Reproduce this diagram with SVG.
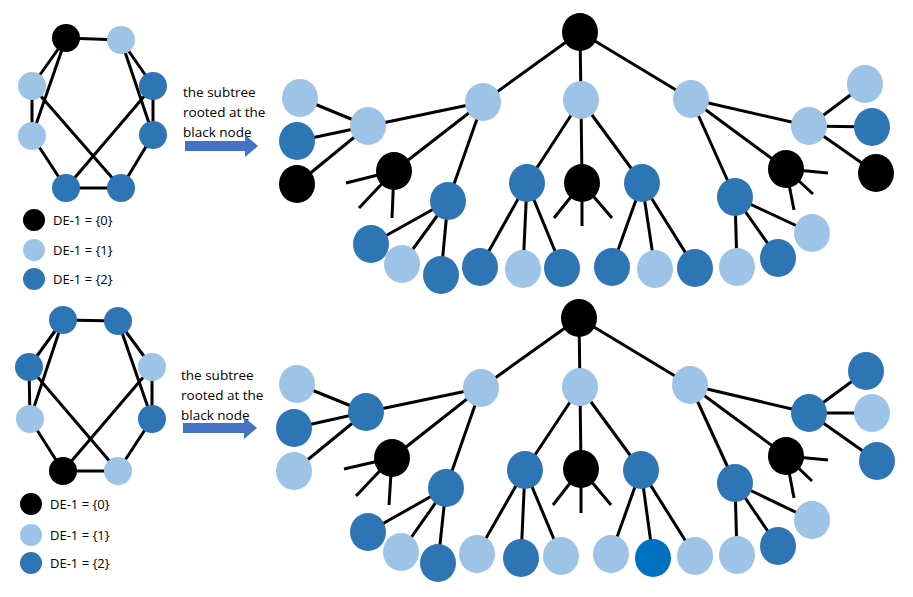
<svg xmlns="http://www.w3.org/2000/svg" width="913" height="597" viewBox="0 0 913 597">
<style>
.k{fill:#000}.l{fill:#9DC3E6}.d{fill:#2E75B6}.b{fill:#0070C0}
line{stroke:#000;stroke-width:3}
text{font-family:"Open Sans","Liberation Sans",sans-serif;font-size:13.5px;fill:#000}
.lg{font-size:13px}
.ar{fill:#4472C4}
</style>
<rect width="913" height="597" fill="#fff"/>
<g id="connectors">
<!-- top graph -->
<line x1="66" y1="38" x2="121" y2="40"/><line x1="66" y1="38" x2="32" y2="86"/><line x1="66" y1="38" x2="32" y2="136"/>
<line x1="32" y1="86" x2="32" y2="136"/><line x1="32" y1="86" x2="121" y2="188"/><line x1="32" y1="136" x2="66" y2="188"/>
<line x1="66" y1="188" x2="121" y2="188"/><line x1="121" y1="40" x2="153" y2="86"/><line x1="121" y1="40" x2="153" y2="135"/>
<line x1="153" y1="86" x2="153" y2="135"/><line x1="153" y1="86" x2="66" y2="188"/><line x1="153" y1="135" x2="121" y2="188"/>
<!-- bottom graph -->
<line x1="63" y1="320" x2="118" y2="321"/><line x1="63" y1="320" x2="29" y2="367"/><line x1="63" y1="320" x2="30" y2="419"/>
<line x1="29" y1="367" x2="30" y2="419"/><line x1="29" y1="367" x2="118" y2="471"/><line x1="30" y1="419" x2="63" y2="471"/>
<line x1="63" y1="471" x2="118" y2="471"/><line x1="118" y1="321" x2="152" y2="367"/><line x1="118" y1="321" x2="152" y2="419"/>
<line x1="152" y1="367" x2="152" y2="419"/><line x1="152" y1="367" x2="63" y2="471"/><line x1="152" y1="419" x2="118" y2="471"/>
<!-- top tree -->
<line x1="580" y1="32" x2="483" y2="102"/><line x1="580" y1="32" x2="581" y2="100"/><line x1="580" y1="32" x2="691" y2="99"/>
<line x1="483" y1="102" x2="368" y2="126"/><line x1="483" y1="102" x2="394" y2="171"/><line x1="483" y1="102" x2="448" y2="201"/>
<line x1="368" y1="126" x2="300" y2="98"/><line x1="368" y1="126" x2="297" y2="141"/><line x1="368" y1="126" x2="297" y2="184"/>
<line x1="394" y1="171" x2="346" y2="183"/><line x1="394" y1="171" x2="359" y2="208"/><line x1="394" y1="171" x2="392" y2="218"/>
<line x1="448" y1="201" x2="371" y2="244"/><line x1="448" y1="201" x2="402" y2="264"/><line x1="448" y1="201" x2="441" y2="275"/>
<line x1="581" y1="100" x2="527" y2="183"/><line x1="581" y1="100" x2="582" y2="183"/><line x1="581" y1="100" x2="642" y2="183"/>
<line x1="527" y1="183" x2="480" y2="267"/><line x1="527" y1="183" x2="523" y2="269"/><line x1="527" y1="183" x2="562" y2="268"/>
<line x1="582" y1="183" x2="554" y2="218"/><line x1="582" y1="183" x2="582" y2="226"/><line x1="582" y1="183" x2="612" y2="218"/>
<line x1="642" y1="183" x2="612" y2="267"/><line x1="642" y1="183" x2="655" y2="269"/><line x1="642" y1="183" x2="695" y2="268"/>
<line x1="691" y1="99" x2="809" y2="126"/><line x1="691" y1="99" x2="786" y2="169"/><line x1="691" y1="99" x2="735" y2="197"/>
<line x1="809" y1="126" x2="865" y2="84"/><line x1="809" y1="126" x2="872" y2="127"/><line x1="809" y1="126" x2="876" y2="173"/>
<line x1="786" y1="169" x2="828" y2="173"/><line x1="786" y1="169" x2="813" y2="194"/><line x1="786" y1="169" x2="794" y2="210"/>
<line x1="735" y1="197" x2="737" y2="267"/><line x1="735" y1="197" x2="778" y2="258"/><line x1="735" y1="197" x2="812" y2="233"/>
<!-- bottom tree -->
<line x1="579" y1="318" x2="481" y2="388"/><line x1="579" y1="318" x2="580" y2="387"/><line x1="579" y1="318" x2="690" y2="385"/>
<line x1="481" y1="388" x2="366" y2="412"/><line x1="481" y1="388" x2="392" y2="458"/><line x1="481" y1="388" x2="446" y2="488"/>
<line x1="366" y1="412" x2="297" y2="384"/><line x1="366" y1="412" x2="294" y2="428"/><line x1="366" y1="412" x2="294" y2="471"/>
<line x1="392" y1="458" x2="344" y2="469"/><line x1="392" y1="458" x2="356" y2="496"/><line x1="392" y1="458" x2="389" y2="505"/>
<line x1="446" y1="488" x2="368" y2="532"/><line x1="446" y1="488" x2="401" y2="552"/><line x1="446" y1="488" x2="438" y2="563"/>
<line x1="580" y1="387" x2="525" y2="470"/><line x1="580" y1="387" x2="581" y2="469"/><line x1="580" y1="387" x2="641" y2="470"/>
<line x1="525" y1="470" x2="477" y2="554"/><line x1="525" y1="470" x2="521" y2="558"/><line x1="525" y1="470" x2="561" y2="556"/>
<line x1="581" y1="469" x2="553" y2="505"/><line x1="581" y1="469" x2="581" y2="513"/><line x1="581" y1="469" x2="611" y2="505"/>
<line x1="641" y1="470" x2="611" y2="554"/><line x1="641" y1="470" x2="653" y2="558"/><line x1="641" y1="470" x2="695" y2="556"/>
<line x1="690" y1="385" x2="809" y2="413"/><line x1="690" y1="385" x2="786" y2="456"/><line x1="690" y1="385" x2="735" y2="483"/>
<line x1="809" y1="413" x2="866" y2="371"/><line x1="809" y1="413" x2="872" y2="413"/><line x1="809" y1="413" x2="877" y2="461"/>
<line x1="786" y1="456" x2="828" y2="460"/><line x1="786" y1="456" x2="812" y2="481"/><line x1="786" y1="456" x2="794" y2="498"/>
<line x1="735" y1="483" x2="737" y2="555"/><line x1="735" y1="483" x2="778" y2="546"/><line x1="735" y1="483" x2="812" y2="520"/>
</g>
<g id="graph1">
<circle class="k" cx="66" cy="38" r="14"/><circle class="l" cx="121" cy="40" r="14"/>
<circle class="l" cx="32" cy="86" r="14"/><circle class="d" cx="153" cy="86" r="14"/>
<circle class="l" cx="32" cy="136" r="14"/><circle class="d" cx="153" cy="135" r="14"/>
<circle class="d" cx="66" cy="188" r="14"/><circle class="d" cx="121" cy="188" r="14"/>
</g>
<g id="legend1">
<circle class="k" cx="34" cy="220" r="11"/><text class="lg" x="53" y="225">DE-1 = {0}</text>
<circle class="l" cx="34" cy="250" r="11"/><text class="lg" x="53" y="255">DE-1 = {1}</text>
<circle class="d" cx="34" cy="279" r="11"/><text class="lg" x="53" y="284">DE-1 = {2}</text>
</g>
<g id="label1">
<text x="183" y="97">the subtree</text><text x="183" y="117">rooted at the</text><text x="183" y="137">black node</text>
<polygon class="ar" points="185,141 245,141 245,135 258,146 245,157 245,151 185,151"/>
</g>
<g id="graph2">
<circle class="d" cx="63" cy="320" r="14"/><circle class="d" cx="118" cy="321" r="14"/>
<circle class="d" cx="29" cy="367" r="14"/><circle class="l" cx="152" cy="367" r="14"/>
<circle class="l" cx="30" cy="419" r="14"/><circle class="d" cx="152" cy="419" r="14"/>
<circle class="k" cx="63" cy="471" r="14"/><circle class="l" cx="118" cy="471" r="14"/>
</g>
<g id="legend2">
<circle class="k" cx="31" cy="504" r="11"/><text class="lg" x="50" y="509">DE-1 = {0}</text>
<circle class="l" cx="31" cy="535" r="11"/><text class="lg" x="50" y="540">DE-1 = {1}</text>
<circle class="d" cx="31" cy="563" r="11"/><text class="lg" x="50" y="568">DE-1 = {2}</text>
</g>
<g id="label2">
<text x="181" y="380">the subtree</text><text x="181" y="400">rooted at the</text><text x="181" y="420">black node</text>
<polygon class="ar" points="183,423 244,423 244,417 257,428 244,439 244,433 183,433"/>
</g>
<g id="tree1">
<ellipse class="k" cx="580" cy="32" rx="18" ry="19"/>
<ellipse class="l" cx="483" cy="102" rx="18" ry="19"/><ellipse class="l" cx="581" cy="100" rx="18" ry="19"/><ellipse class="l" cx="691" cy="99" rx="18" ry="19"/>
<ellipse class="l" cx="368" cy="126" rx="18" ry="19"/><ellipse class="l" cx="300" cy="98" rx="18" ry="19"/><ellipse class="d" cx="297" cy="141" rx="18" ry="19"/><ellipse class="k" cx="297" cy="184" rx="18" ry="19"/>
<ellipse class="k" cx="394" cy="171" rx="18" ry="19"/><ellipse class="d" cx="448" cy="201" rx="18" ry="19"/>
<ellipse class="d" cx="371" cy="244" rx="18" ry="19"/><ellipse class="l" cx="402" cy="264" rx="18" ry="19"/><ellipse class="d" cx="441" cy="275" rx="18" ry="19"/>
<ellipse class="d" cx="527" cy="183" rx="18" ry="19"/><ellipse class="k" cx="582" cy="183" rx="18" ry="19"/><ellipse class="d" cx="642" cy="183" rx="18" ry="19"/>
<ellipse class="d" cx="480" cy="267" rx="18" ry="19"/><ellipse class="l" cx="523" cy="269" rx="18" ry="19"/><ellipse class="d" cx="562" cy="268" rx="18" ry="19"/>
<ellipse class="d" cx="612" cy="267" rx="18" ry="19"/><ellipse class="l" cx="655" cy="269" rx="18" ry="19"/><ellipse class="d" cx="695" cy="268" rx="18" ry="19"/>
<ellipse class="l" cx="809" cy="126" rx="18" ry="19"/><ellipse class="k" cx="786" cy="169" rx="18" ry="19"/><ellipse class="d" cx="735" cy="197" rx="18" ry="19"/>
<ellipse class="l" cx="865" cy="84" rx="18" ry="19"/><ellipse class="d" cx="872" cy="127" rx="18" ry="19"/><ellipse class="k" cx="876" cy="173" rx="18" ry="19"/>
<ellipse class="l" cx="737" cy="267" rx="18" ry="19"/><ellipse class="d" cx="778" cy="258" rx="18" ry="19"/><ellipse class="l" cx="812" cy="233" rx="18" ry="19"/>
</g>
<g id="tree2">
<ellipse class="k" cx="579" cy="318" rx="18" ry="19"/>
<ellipse class="l" cx="481" cy="388" rx="18" ry="19"/><ellipse class="l" cx="580" cy="387" rx="18" ry="19"/><ellipse class="l" cx="690" cy="385" rx="18" ry="19"/>
<ellipse class="d" cx="366" cy="412" rx="18" ry="19"/><ellipse class="l" cx="297" cy="384" rx="18" ry="19"/><ellipse class="d" cx="294" cy="428" rx="18" ry="19"/><ellipse class="l" cx="294" cy="471" rx="18" ry="19"/>
<ellipse class="k" cx="392" cy="458" rx="18" ry="19"/><ellipse class="d" cx="446" cy="488" rx="18" ry="19"/>
<ellipse class="d" cx="368" cy="532" rx="18" ry="19"/><ellipse class="l" cx="401" cy="552" rx="18" ry="19"/><ellipse class="d" cx="438" cy="563" rx="18" ry="19"/>
<ellipse class="d" cx="525" cy="470" rx="18" ry="19"/><ellipse class="k" cx="581" cy="469" rx="18" ry="19"/><ellipse class="d" cx="641" cy="470" rx="18" ry="19"/>
<ellipse class="l" cx="477" cy="554" rx="18" ry="19"/><ellipse class="d" cx="521" cy="558" rx="18" ry="19"/><ellipse class="l" cx="561" cy="556" rx="18" ry="19"/>
<ellipse class="l" cx="611" cy="554" rx="18" ry="19"/><ellipse class="b" cx="653" cy="558" rx="18" ry="19"/><ellipse class="l" cx="695" cy="556" rx="18" ry="19"/>
<ellipse class="d" cx="809" cy="413" rx="18" ry="19"/><ellipse class="k" cx="786" cy="456" rx="18" ry="19"/><ellipse class="d" cx="735" cy="483" rx="18" ry="19"/>
<ellipse class="d" cx="866" cy="371" rx="18" ry="19"/><ellipse class="l" cx="872" cy="413" rx="18" ry="19"/><ellipse class="d" cx="877" cy="461" rx="18" ry="19"/>
<ellipse class="l" cx="737" cy="555" rx="18" ry="19"/><ellipse class="d" cx="778" cy="546" rx="18" ry="19"/><ellipse class="l" cx="812" cy="520" rx="18" ry="19"/>
</g>
</svg>
